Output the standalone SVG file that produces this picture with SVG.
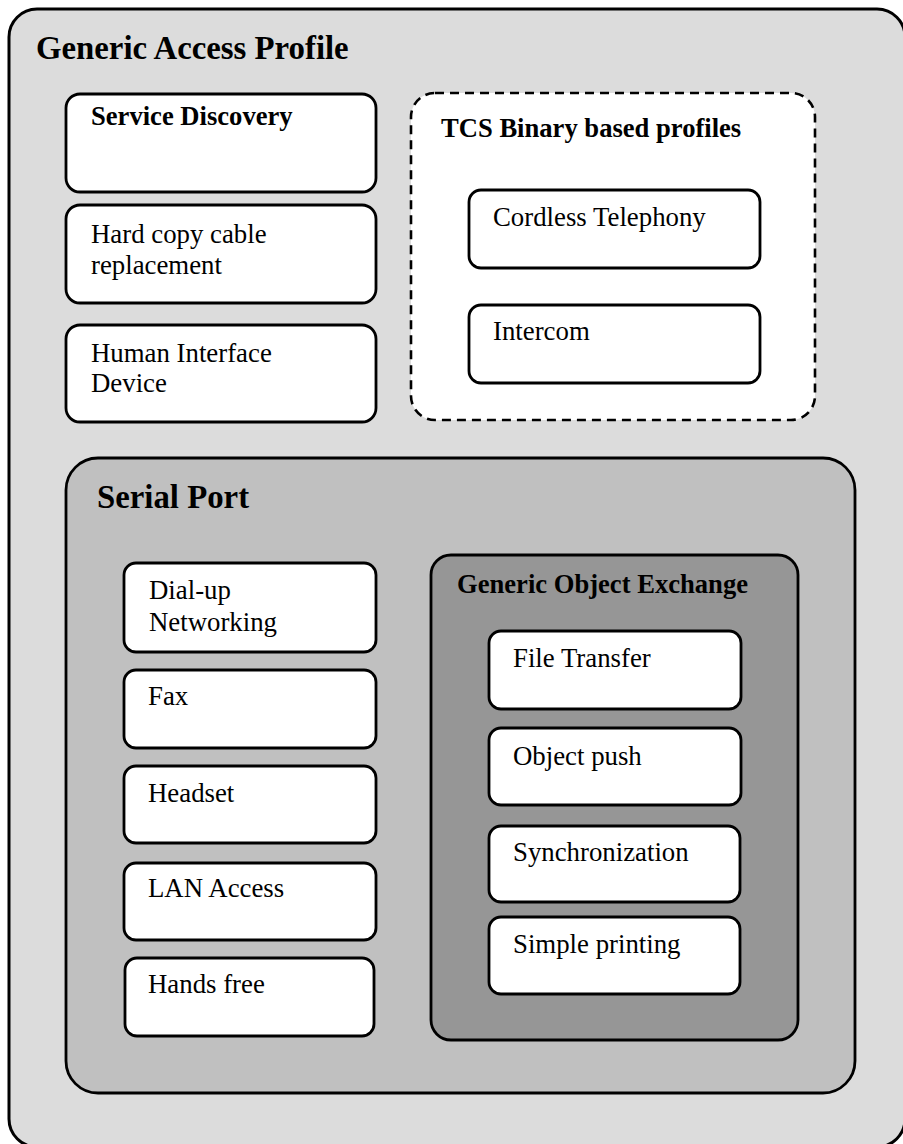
<svg xmlns="http://www.w3.org/2000/svg" width="903" height="1144" viewBox="0 0 903 1144">
  <style>
    .box { fill: #ffffff; stroke: #000000; stroke-width: 2.8; }
    .dash { fill: #ffffff; stroke: #000000; stroke-width: 2.6; stroke-dasharray: 9 6; }
    .gap { fill: #dcdcdc; stroke: #000000; stroke-width: 3; }
    .sp { fill: #c0c0c0; stroke: #000000; stroke-width: 2.8; }
    .goe { fill: #969696; stroke: #000000; stroke-width: 2.8; }
    text { font-family: "Liberation Serif", "Times New Roman", serif; fill: #000000; }
    .h1 { font-size: 32.8px; font-weight: bold; }
    .h2 { font-size: 26.6px; font-weight: bold; }
    .t { font-size: 26.8px; }
  </style>

  <!-- Generic Access Profile container -->
  <g id="gap">
    <rect class="gap" x="9" y="9" width="896" height="1138" rx="28"/>
    <text class="h1" x="36" y="59">Generic Access Profile</text>
  </g>

  <g id="service-discovery">
    <rect class="box" x="66" y="94" width="310" height="98" rx="14"/>
    <text class="h2" x="91" y="125">Service Discovery</text>
  </g>

  <g id="hard-copy">
    <rect class="box" x="66" y="205" width="310" height="98" rx="14"/>
    <text class="t" x="91" y="243">Hard copy cable</text>
    <text class="t" x="91" y="274">replacement</text>
  </g>

  <g id="hid">
    <rect class="box" x="66" y="325" width="310" height="97" rx="14"/>
    <text class="t" x="91" y="362">Human Interface</text>
    <text class="t" x="91" y="392">Device</text>
  </g>

  <!-- TCS Binary group -->
  <g id="tcs">
    <rect class="dash" x="411" y="93" width="404" height="327" rx="24"/>
    <text class="h2" x="441" y="137">TCS Binary based profiles</text>
  </g>

  <g id="cordless">
    <rect class="box" x="469" y="190" width="291" height="78" rx="12"/>
    <text class="t" x="493" y="226">Cordless Telephony</text>
  </g>

  <g id="intercom">
    <rect class="box" x="469" y="305" width="291" height="78" rx="12"/>
    <text class="t" x="493" y="340">Intercom</text>
  </g>

  <!-- Serial Port container -->
  <g id="serial-port">
    <rect class="sp" x="66" y="458" width="789" height="635" rx="32"/>
    <text class="h1" x="97" y="508">Serial Port</text>
  </g>

  <g id="dialup">
    <rect class="box" x="124" y="563" width="252" height="89" rx="12"/>
    <text class="t" x="149" y="599">Dial-up</text>
    <text class="t" x="149" y="631">Networking</text>
  </g>

  <g id="fax">
    <rect class="box" x="124" y="670" width="252" height="78" rx="12"/>
    <text class="t" x="148" y="705">Fax</text>
  </g>

  <g id="headset">
    <rect class="box" x="124" y="766" width="252" height="77" rx="12"/>
    <text class="t" x="148" y="802">Headset</text>
  </g>

  <g id="lan">
    <rect class="box" x="124" y="863" width="252" height="77" rx="12"/>
    <text class="t" x="148" y="897">LAN Access</text>
  </g>

  <g id="handsfree">
    <rect class="box" x="125" y="958" width="249" height="78" rx="12"/>
    <text class="t" x="148" y="993">Hands free</text>
  </g>

  <!-- Generic Object Exchange container -->
  <g id="goe">
    <rect class="goe" x="431" y="555" width="367" height="485" rx="20"/>
    <text class="h2" x="457" y="593">Generic Object Exchange</text>
  </g>

  <g id="file-transfer">
    <rect class="box" x="489" y="631" width="252" height="78" rx="12"/>
    <text class="t" x="513" y="667">File Transfer</text>
  </g>

  <g id="object-push">
    <rect class="box" x="489" y="728" width="252" height="77" rx="12"/>
    <text class="t" x="513" y="765">Object push</text>
  </g>

  <g id="sync">
    <rect class="box" x="489" y="826" width="251" height="76" rx="12"/>
    <text class="t" x="513" y="861">Synchronization</text>
  </g>

  <g id="printing">
    <rect class="box" x="489" y="917" width="251" height="77" rx="12"/>
    <text class="t" x="513" y="953">Simple printing</text>
  </g>

  <g id="connectors"></g>
</svg>
